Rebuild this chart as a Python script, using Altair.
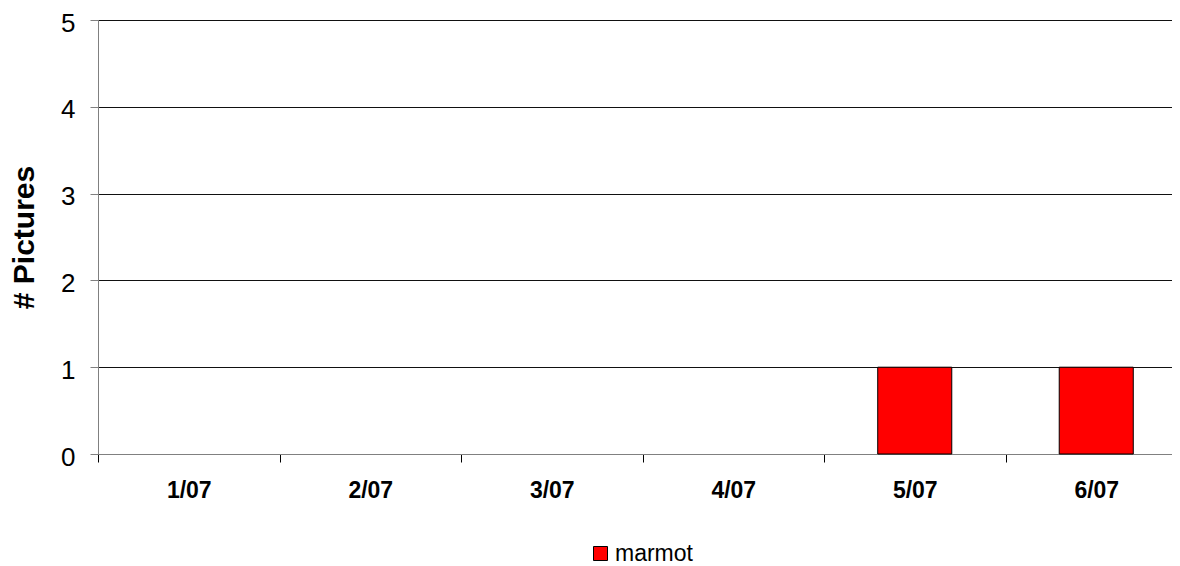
import altair as alt
import pandas as pd

dates = ["1/07", "2/07", "3/07", "4/07", "5/07", "6/07"]
marmot = [0, 0, 0, 0, 1, 1]
series = ["marmot"] * len(dates)
y_ticks = [0, 1, 2, 3, 4, 5]

df = pd.DataFrame({"date": dates, "count": marmot, "series": series})

bars = alt.Chart(df).transform_filter(
    alt.datum.count > 0
).mark_bar(
    stroke="#000000", strokeWidth=1, width=alt.RelativeBandSize(0.408)
).encode(
    x=alt.X(
        "date:N",
        sort=dates,
        scale=alt.Scale(domain=dates, range=[0, 1089], paddingInner=0, paddingOuter=0),
        axis=alt.Axis(
            title=None,
            labelAngle=0,
            labelFont="Liberation Sans",
            labelFontSize=23,
            labelFontWeight="bold",
            labelColor="#000000",
            labelPadding=17,
            tickBand="extent",
            tickSize=8,
            tickColor="#000000",
            domainColor="#808080",
            grid=False,
        ),
    ),
    y=alt.Y(
        "count:Q",
        scale=alt.Scale(domain=[0, 5], nice=False),
        axis=alt.Axis(
            title="# Pictures",
            titleFont="Liberation Sans",
            titleFontSize=30,
            titleFontWeight="bold",
            titleColor="#000000",
            titlePadding=21,
            values=y_ticks,
            labelFont="Liberation Sans",
            labelFontSize=26,
            labelColor="#000000",
            labelPadding=15,
            labelOffset=3,
            tickSize=8,
            tickColor="#808080",
            domainColor="#808080",
            grid=True,
            gridColor="#111111",
            gridWidth=1,
        ),
    ),
    color=alt.Color(
        "series:N",
        scale=alt.Scale(domain=["marmot"], range=["#FF0000"]),
        legend=alt.Legend(
            title=None,
            orient="none",
            legendX=491,
            legendY=522,
            padding=0,
            symbolType="square",
            symbolSize=196,
            symbolStrokeColor="#000000",
            symbolStrokeWidth=1,
            symbolFillColor="#FF0000",
            labelFont="Liberation Sans",
            labelFontSize=23,
            labelColor="#000000",
            labelOffset=3,
        ),
    ),
)

chart = bars.properties(
    width=1074,
    height=434,
    autosize=alt.AutoSizeParams(type="none"),
    padding={"left": 90, "top": 12, "right": 0, "bottom": 112},
).configure_view(stroke=None).configure(background="#ffffff")

chart.save("out.html", embed_options={"renderer": "svg", "actions": False})
